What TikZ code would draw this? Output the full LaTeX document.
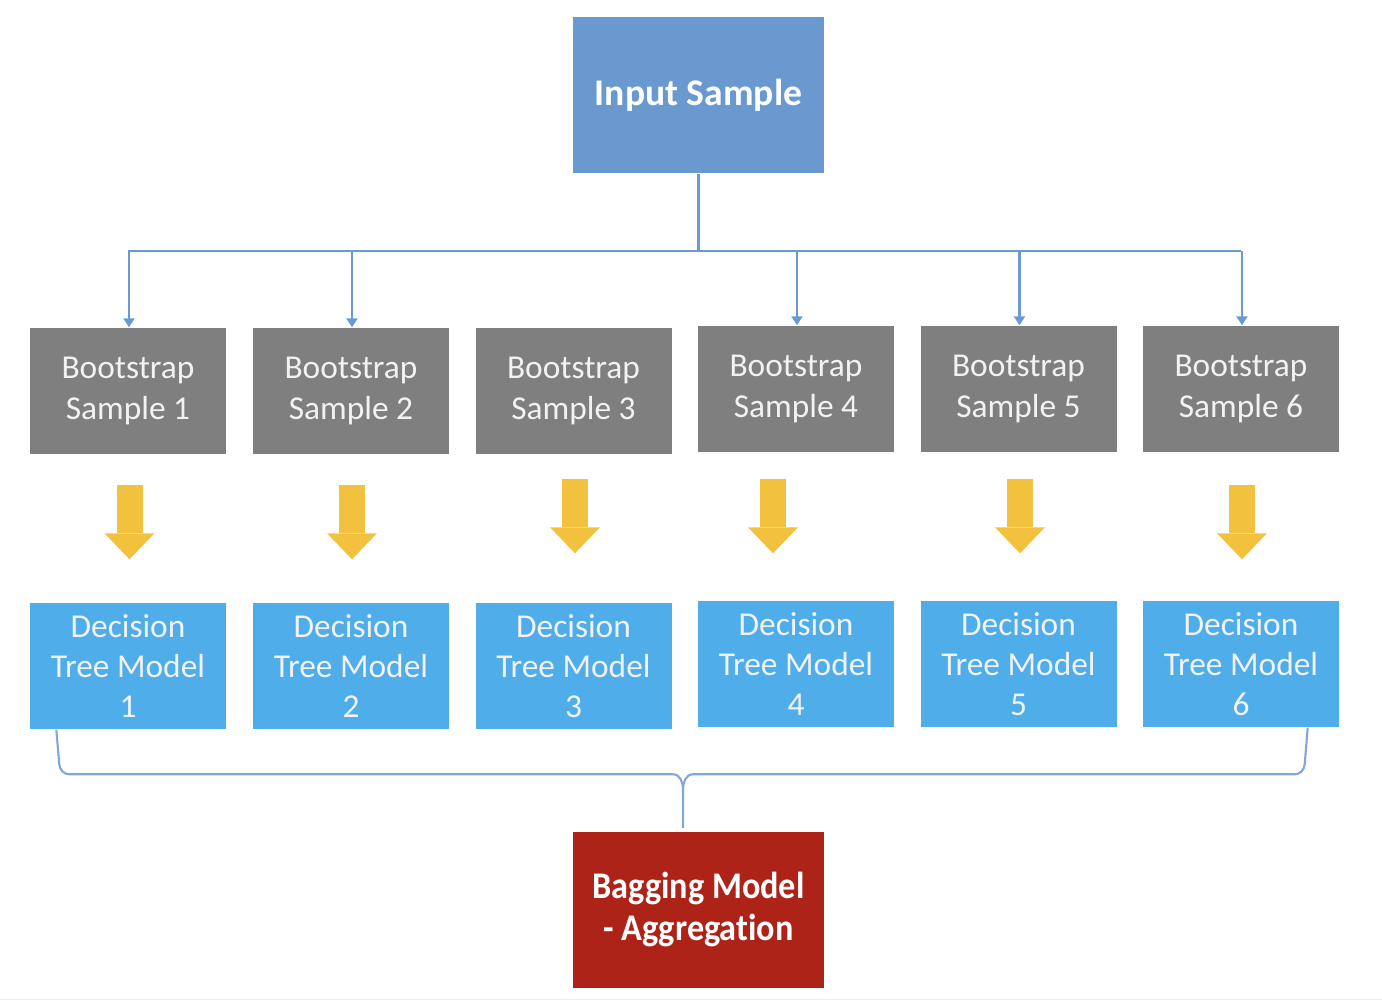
\documentclass[tikz,border=0pt]{standalone}
\usepackage{fontspec}
\setmainfont{Carlito}[Ligatures=NoCommon]
\newfontfamily\narrowbold{Carlito}[Ligatures=NoCommon,FakeStretch=0.91]
\usetikzlibrary{arrows.meta,calc}

\definecolor{inblue}{HTML}{6A99D0}
\definecolor{bootgray}{HTML}{7F7F7F}
\definecolor{treeblue}{HTML}{4FADEA}
\definecolor{bagred}{HTML}{AE2318}
\definecolor{arrowyellow}{HTML}{F2C13E}
\definecolor{linkblue}{HTML}{6A9AD3}
\definecolor{braceblue}{HTML}{7FA7D8}

\tikzset{
    box/.style={inner sep=0pt, align=center, text=white!95!black,
        font=\fontsize{9.5}{11.4}\selectfont},
    bootbox/.style={box, fill=bootgray, minimum width=1.96cm, minimum height=1.26cm},
    treebox/.style={box, fill=treeblue, minimum width=1.96cm, minimum height=1.26cm},
    bigbox/.style={box, text=white, font=\fontsize{10.7}{11.7}\selectfont\bfseries,
        minimum width=2.51cm, minimum height=1.56cm},
    trunk/.style={linkblue, line width=0.6pt},
    link/.style={trunk, -{Triangle[width=0.11cm,length=0.09cm]}},
    yarrow/.style={arrowyellow, line width=0.26cm,
        -{Triangle[width=0.5cm,length=0.26cm,line width=0pt]}},
    brace/.style={braceblue, line width=0.6pt}
}

\begin{document}
\begin{tikzpicture}

    \useasboundingbox (0,0) rectangle (13.82,-10.02);
    \draw[gray!15] (0,-9.995) -- (13.82,-9.995);

    % input
    \node[bigbox, fill=inblue] (in) at (6.985,-0.95) {Input Sample};

    % samples and trees
    \foreach \i/\x/\y in {1/1.28/3.91, 2/3.51/3.91, 3/5.735/3.91, 4/7.96/3.89, 5/10.185/3.89, 6/12.41/3.89}
        \node[bootbox] (b\i) at (\x,-\y) {Bootstrap\\Sample \i};
    \foreach \i/\x/\y in {1/1.28/6.66, 2/3.51/6.66, 3/5.735/6.66, 4/7.96/6.64, 5/10.185/6.64, 6/12.41/6.64}
        \node[treebox] (t\i) at (\x,-\y) {Decision\\Tree Model\\\i};

    % bagging
    \node[bigbox, fill=bagred, font=\fontsize{10.7}{11.9}\selectfont\narrowbold\bfseries] (bag)
        at (6.985,-9.095) {Bagging Model\\- Aggregation};

    % links
    \coordinate (fork) at ($(in.south)+(0,-0.775)$);
    \draw[trunk] (in.south) -- (fork);
    \draw[trunk] (b1.north |- fork) -- (b6.north |- fork);
    \foreach \i in {1,2,4,5,6}
        \draw[link] ([xshift=0.01cm]b\i.north |- fork) -- ([xshift=0.01cm]b\i.north);

    \foreach \i/\dx/\ga/\gb in {1/0.015/0.30/0.43, 2/0.01/0.30/0.43, 3/0.015/0.24/0.49, 4/-0.23/0.26/0.47, 5/0.015/0.26/0.47, 6/0.01/0.32/0.41}
        \draw[yarrow] ([shift={(\dx,-\ga)}]b\i.south) -- ([shift={(\dx,\gb)}]t\i.north);

    % brace
    \coordinate (bl) at ([xshift=0.27cm]t1.south west);
    \coordinate (br) at ([xshift=-0.32cm]t6.south east);
    \coordinate (bm) at ([shift={(-0.155,0.03)}]bag.north);
    \coordinate (mid) at ($(bm)+(0,0.535)$);
    \draw[brace] (bl) -- ($(bl |- mid)+(0.03,0.1)$) to[out=-85,in=180] ($(bl |- mid)+(0.13,0)$)
        -- ($(mid)+(-0.1,0)$) to[out=0,in=90] ($(mid)+(0,-0.15)$) -- (bm);
    \draw[brace] ($(mid)+(0,-0.15)$) to[out=90,in=180] ($(mid)+(0.1,0)$)
        -- ($(br |- mid)+(-0.13,0)$) to[out=0,in=-95] ($(br |- mid)+(-0.03,0.1)$) -- (br);

\end{tikzpicture}
\end{document}
